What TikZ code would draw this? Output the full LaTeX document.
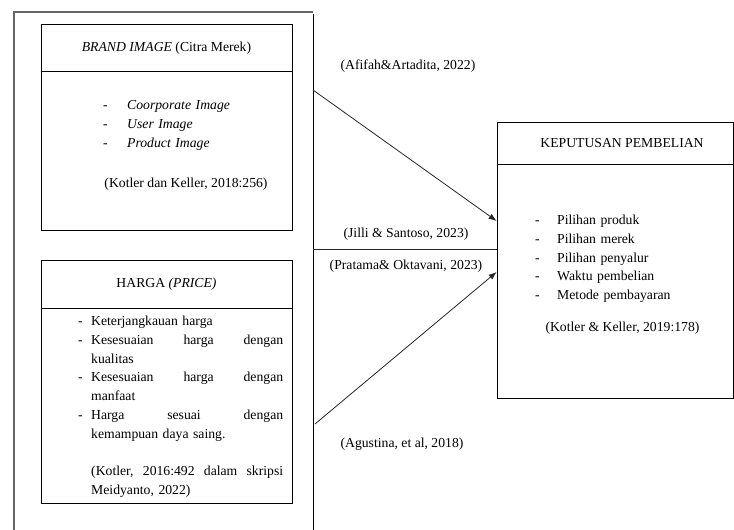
\documentclass[tikz,border=0pt]{standalone}
\usepackage{fontspec}
\setmainfont{Liberation Serif}
\usetikzlibrary{positioning,arrows.meta,calc}

\begin{document}
\begin{tikzpicture}[x=1pt, y=-1pt, font={\fontsize{13.7}{18.75}\selectfont}]
      \tikzset{
	  varbox/.style={rectangle, draw=black, line width=0.8pt, inner sep=0pt},
	  title/.style={inner sep=0pt, anchor=base},
	  items/.style={inner sep=0pt, anchor=base west, align=left},
	  link/.style={draw=black!85, line width=0.8pt},
	  arr/.style={link, -{Latex[length=8pt,width=6pt]}}
      }
      \def\spread#1#2#3{\makebox[192pt][l]{#1\hfill #2\hfill #3}}
      \useasboundingbox (0,0) rectangle (734,530);

      % outer frame, open at the bottom
      \draw[draw=black!60, line width=1.2pt] (14,530) -- (14,12) -- (313,12);
      \draw[line width=0.8pt] (313,14) -- (313,530);

      % brand image
      \node[varbox, minimum width=251pt, minimum height=206pt] (brand) at (166.5,127) {};
      \draw[line width=0.8pt] (brand.west |- 0,71) -- (brand.east |- 0,71);
      \node[title] (brandt) at (166.5,51.5) {\textit{BRAND IMAGE} (Citra Merek)};
      \node[items, text width=170pt] (brandl) at (103,109.5)
	    {\makebox[24pt][l]{-}\textit{Coorporate Image}\\
	     \makebox[24pt][l]{-}\textit{User Image}\\
	     \makebox[24pt][l]{-}\textit{Product Image}};
      \node[title] (brandc) at (186,187.5) {(Kotler dan Keller, 2018:256)};

      % harga
      \node[varbox, minimum width=251pt, minimum height=243pt] (harga) at (166.5,381.5) {};
      \draw[line width=0.8pt] (harga.west |- 0,308) -- (harga.east |- 0,308);
      \node[title] (hargat) at (166.5,287.5) {HARGA \textit{(PRICE)}};
      \node[items, text width=210pt] (hargal) at (78,325.5)
	    {\makebox[13pt][l]{-}Keterjangkauan harga\\
	     \makebox[13pt][l]{-}\spread{Kesesuaian}{harga}{dengan}\\
	     \hspace*{13pt}kualitas\\
	     \makebox[13pt][l]{-}\spread{Kesesuaian}{harga}{dengan}\\
	     \hspace*{13pt}manfaat\\
	     \makebox[13pt][l]{-}\spread{Harga}{sesuai}{dengan}\\
	     \hspace*{13pt}kemampuan daya saing.\\[18.75pt]
	     \hspace*{13pt}\spread{(Kotler,}{2016:492}{dalam\hfill skripsi}\\
	     \hspace*{13pt}Meidyanto, 2022)};

      % keputusan pembelian
      \node[varbox, minimum width=236pt, minimum height=276pt] (kep) at (615,260) {};
      \draw[line width=0.8pt] (kep.west |- 0,164) -- (kep.east |- 0,164);
      \node[title] (kept) at (622,147.5) {KEPUTUSAN PEMBELIAN};
      \node[items, text width=180pt] (kepl) at (535,224.5)
	    {\makebox[22pt][l]{-}Pilihan produk\\
	     \makebox[22pt][l]{-}Pilihan merek\\
	     \makebox[22pt][l]{-}Pilihan penyalur\\
	     \makebox[22pt][l]{-}Waktu pembelian\\
	     \makebox[22pt][l]{-}Metode pembayaran};
      \node[title] (kepc) at (622.5,331.5) {(Kotler \& Keller, 2019:178)};

      % connectors
      \coordinate (s1) at (313,90);
      \coordinate (s2) at (313,249);
      \coordinate (s3) at (315,424);
      \coordinate (e1) at (kep.west |- 0,221);
      \coordinate (e2) at (kep.west |- 0,249);
      \coordinate (e3) at (kep.west |- 0,272);
      \draw[arr] (s1) -- (e1);
      \draw[link] (s2) -- (e2);
      \draw[arr] (s3) -- (e3);

      \node[title] (c1) at (408,69.5) {(Afifah\&Artadita, 2022)};
      \node[title] (c2) at (406,237.5) {(Jilli \& Santoso, 2023)};
      \node[title] (c3) at (406,269.5) {(Pratama\& Oktavani, 2023)};
      \node[title] (c4) at (402,447.5) {(Agustina, et al, 2018)};
\end{tikzpicture}
\end{document}
